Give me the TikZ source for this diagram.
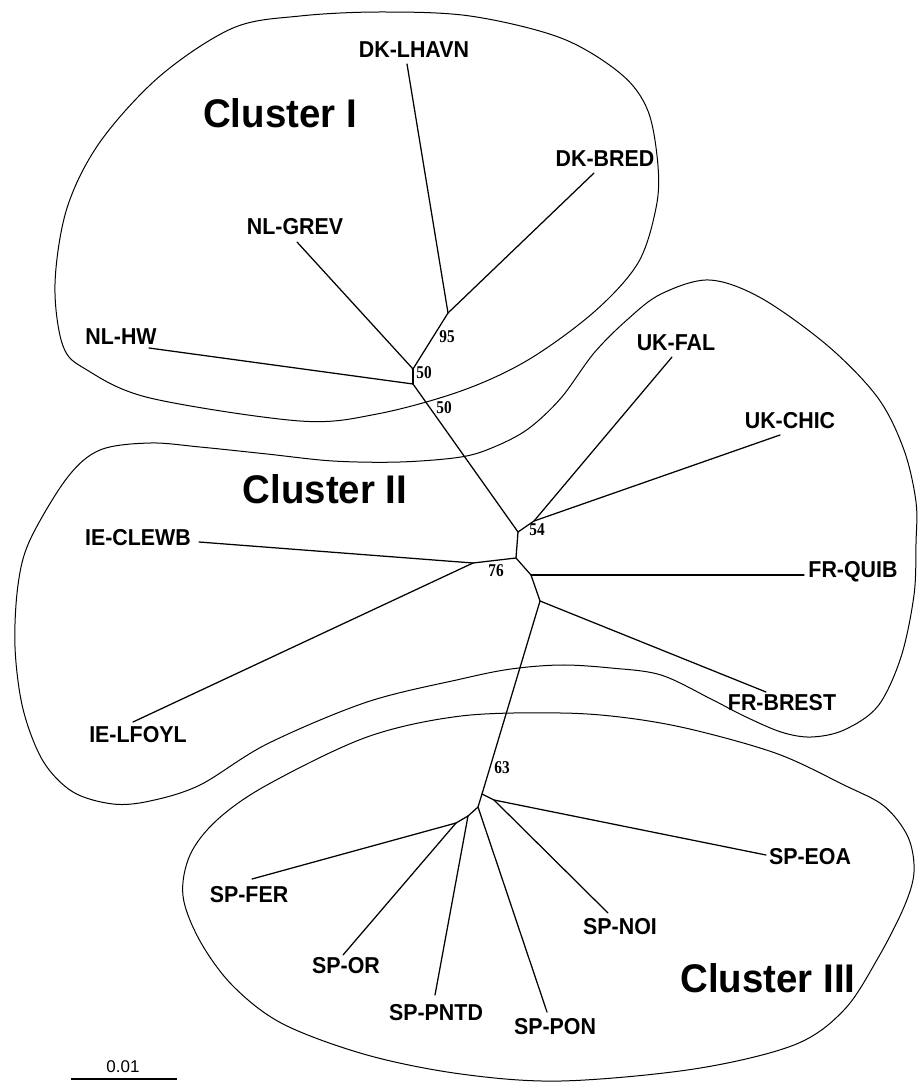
\documentclass[tikz,border=0pt]{standalone}
\usepackage{fontspec}
\setmainfont{Liberation Sans}
\newfontfamily\labelfont[FakeStretch=0.93]{Liberation Sans}
\newfontfamily\clusfont[FakeStretch=0.96]{Liberation Sans}
\newfontfamily\bootfont[FakeStretch=0.85]{Liberation Serif}
\begin{document}
\begin{tikzpicture}[x=1pt,y=-1pt,
  leaf/.style={font=\labelfont\fontsize{23}{23}\selectfont\bfseries, inner sep=0pt},
  clus/.style={font=\clusfont\fontsize{40}{40}\selectfont\bfseries, inner sep=0pt},
  boot/.style={font=\bootfont\fontsize{18}{18}\selectfont\bfseries, inner sep=0pt},
  scaletext/.style={font=\fontsize{17}{17}\selectfont, inner sep=0pt},
  branch/.style={line width=1.25pt, line cap=round, line join=round},
  hull/.style={line width=1.0pt}]
\useasboundingbox (0,0) rectangle (922,1086);

% cluster outlines
\draw[hull] plot[smooth cycle, tension=0.55] coordinates {
 (380,12) (470,16) (561,38) (621,74) (648,111) (658,166) (656,208) (638,263)
 (594,312) (528,360) (461,391) (377,414) (300,421) (150,398) (87,370) (63,346)
 (55,284) (67,208) (100,142) (160,76) (233,28) (300,16)};
\draw[hull] plot[smooth cycle, tension=0.55] coordinates {
 (709,280) (761,298) (828,346) (878,398) (904,450) (916,502) (916,543) (914,595)
 (901,657) (878,706) (844,730) (811,737) (781,732) (744,716) (711,699) (661,675)
 (611,668) (561,665) (511,669) (461,679) (367,702) (267,744) (200,785) (150,801)
 (113,804) (73,792) (43,761) (23,709) (15,647) (18,585) (30,540) (67,478)
 (100,450) (150,443) (200,447) (267,454) (333,461) (400,462) (461,457) (494,447)
 (528,429) (561,398) (594,353) (628,319) (661,294)};
\draw[hull] plot[smooth cycle, tension=0.55] coordinates {
 (461,716) (367,737) (267,785) (217,820) (190,855) (183,896) (200,941) (233,986)
 (283,1024) (367,1055) (461,1074) (561,1081) (694,1069) (794,1045) (844,1010)
 (878,958) (904,907) (914,872) (908,837) (884,806) (844,785) (778,754) (694,730)
 (628,718) (561,713)};

% cluster labels
\node[clus] (c1) at (280,113) {Cluster I};
\node[clus] (c2) at (325,489) {Cluster II};
\node[clus] (c3) at (768,978) {Cluster III};

% leaf labels
\node[leaf] (DKL) at (414,50) {DK-LHAVN};
\node[leaf] (DKB) at (605,159) {DK-BRED};
\node[leaf] (NLG) at (295,227) {NL-GREV};
\node[leaf] (NLH) at (121,337) {NL-HW};
\node[leaf] (UKF) at (676,343) {UK-FAL};
\node[leaf] (UKC) at (790,421) {UK-CHIC};
\node[leaf] (IEC) at (138,538) {IE-CLEWB};
\node[leaf] (FRQ) at (853,572) {FR-QUIB};
\node[leaf] (FRB) at (782,703) {FR-BREST};
\node[leaf] (IEL) at (138,735) {IE-LFOYL};
\node[leaf] (SPE) at (810,857) {SP-EOA};
\node[leaf] (SPF) at (249,895) {SP-FER};
\node[leaf] (SPN) at (620,927) {SP-NOI};
\node[leaf] (SPO) at (346,966) {SP-OR};
\node[leaf] (SPP) at (436,1013) {SP-PNTD};
\node[leaf] (SPQ) at (555,1027) {SP-PON};

% bootstrap values
\node[boot] (b95) at (447,337) {95};
\node[boot] (b50a) at (424,373) {50};
\node[boot] (b50b) at (444,408) {50};
\node[boot] (b54) at (537,530) {54};
\node[boot] (b76) at (496,571) {76};
\node[boot] (b63) at (502,768) {63};

% branch tips
\coordinate (tDKL) at (407,64);
\coordinate (tDKB) at (594,173);
\coordinate (tNLG) at (297,242);
\coordinate (tNLH) at (149,348);
\coordinate (tUKF) at (672,357);
\coordinate (tUKC) at (780,435);
\coordinate (tIEC) at (199,542);
\coordinate (tFRQ) at (804,575);
\coordinate (tFRB) at (766,692);
\coordinate (tIEL) at (133,722);
\coordinate (tSPE) at (766,855);
\coordinate (tSPF) at (252,879);
\coordinate (tSPO) at (343,955);
\coordinate (tSPP) at (435,995);
\coordinate (tSPQ) at (547,1012);
\coordinate (tSPN) at (608,913);

% internal nodes
\coordinate (A) at (448,313);
\coordinate (B) at (413,369);
\coordinate (C) at (413,384);
\coordinate (D) at (518,532);
\coordinate (E) at (534,521);
\coordinate (F) at (516,558);
\coordinate (G) at (473,563);
\coordinate (H) at (531,575);
\coordinate (I) at (540,601);
\coordinate (J) at (482,794);
\coordinate (K) at (494,800);
\coordinate (L) at (478,807);
\coordinate (N) at (468,816);
\coordinate (M) at (456,823);

% branches
\draw[branch] (tDKL) -- (A);
\draw[branch] (tDKB) -- (A);
\draw[branch] (A) -- (B);
\draw[branch] (tNLG) -- (B);
\draw[branch] (B) -- (C);
\draw[branch] (tNLH) -- (C);
\draw[branch] (C) -- (D);
\draw[branch] (D) -- (E);
\draw[branch] (E) -- (tUKF);
\draw[branch] (E) -- (tUKC);
\draw[branch] (D) -- (F);
\draw[branch] (F) -- (G);
\draw[branch] (G) -- (tIEC);
\draw[branch] (G) -- (tIEL);
\draw[branch] (F) -- (H);
\draw[branch] (H) -- (tFRQ);
\draw[branch] (H) -- (I);
\draw[branch] (I) -- (tFRB);
\draw[branch] (I) -- (J);
\draw[branch] (J) -- (K);
\draw[branch] (K) -- (tSPE);
\draw[branch] (K) -- (tSPN);
\draw[branch] (J) -- (L);
\draw[branch] (L) -- (tSPQ);
\draw[branch] (L) -- (N);
\draw[branch] (N) -- (tSPP);
\draw[branch] (N) -- (M);
\draw[branch] (M) -- (tSPF);
\draw[branch] (M) -- (tSPO);

% scale bar
\coordinate (s1) at (71,1079);
\coordinate (s2) at (177,1079);
\draw[line width=1.5pt] (s1) -- (s2);
\node[scaletext] (sc) at (123,1067) {0.01};
\end{tikzpicture}
\end{document}
